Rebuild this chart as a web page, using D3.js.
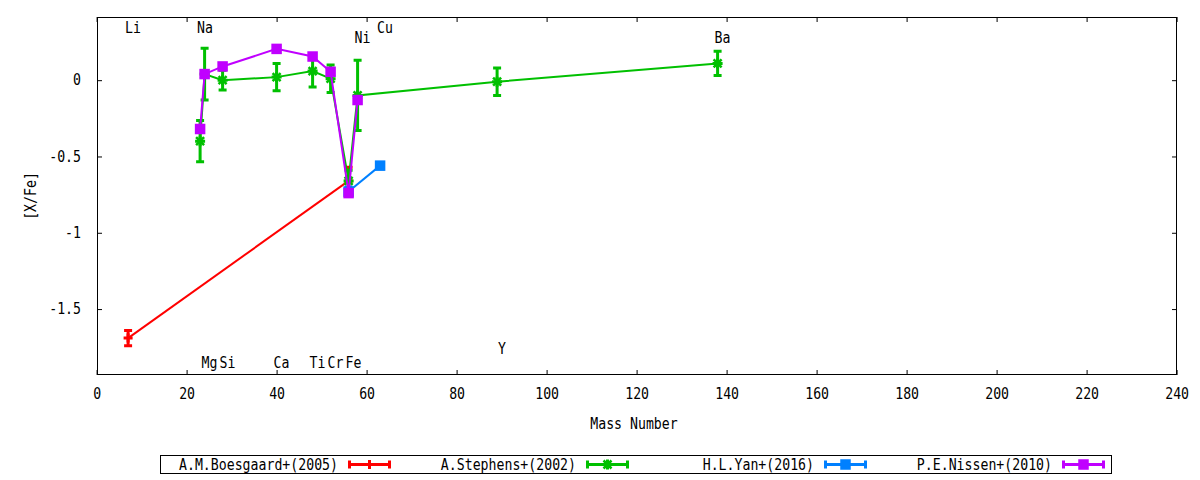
<!DOCTYPE html>
<html><head><meta charset="utf-8">
<script src="https://cdn.jsdelivr.net/npm/d3@7"></script>
<style>
body{margin:0;background:#fff}
text{font-family:"DejaVu Sans Mono",monospace;font-size:15px;fill:#000}
</style>
</head><body>
<svg id="c" width="1200" height="480"></svg>
<script>
// ---- data ----
const xTicks = [0,20,40,60,80,100,120,140,160,180,200,220,240];
const yTicks = [-1.5,-1,-0.5,0];
const yTickLabels = ["-1.5","-1","-0.5","0"];

const elements      = ["Li","Na","Mg","Si","Ca","Ti","Cr","Fe","Ni","Cu","Y","Ba"];
const elementMass   = [7,23,24,28,40,48,52,56,58,63,89,138];
const elementLabelY = [0.346,0.346,-1.855,-1.855,-1.855,-1.855,-1.855,-1.855,0.28,0.346,-1.76,0.28];

const seriesNames  = ["A.M.Boesgaard+(2005)","A.Stephens+(2002)","H.L.Yan+(2016)","P.E.Nissen+(2010)"];
const seriesColors = ["#ff0000","#00c000","#0080ff","#c000ff"];
const seriesMarks  = ["plus","star","square","square"];

const boesgaardX   = [7,56];
const boesgaardY   = [-1.69,-0.66];
const boesgaardErr = [0.05,0.09];

const stephensX   = [23,24,28,40,48,52,56,58,89,138];
const stephensY   = [-0.40,0.04,0.00,0.02,0.06,0.01,-0.66,-0.10,-0.01,0.11];
const stephensErr = [0.135,0.17,0.065,0.09,0.105,0.09,0.07,0.23,0.09,0.08];

const yanX   = [56,63];
const yanY   = [-0.73,-0.56];
const yanErr = [0.03,0.02];

const nissenX   = [23,24,28,40,48,52,56,58];
const nissenY   = [-0.32,0.04,0.09,0.205,0.155,0.055,-0.74,-0.13];
const nissenErr = [0.02,0.02,0.02,0.02,0.02,0.02,0.02,0.02];

const xDomain = [0,240];
const yDomain = [-1.932,0.414];

// ---- layout ----
const L=97, R=1177, T=17, B=375;
const CW = 7.95; // char advance
const svg = d3.select("#c");
const x = d3.scaleLinear().domain(xDomain).range([L-0.4,R-0.4]);
const y = d3.scaleLinear().domain(yDomain).range([B,T]);

function fit(sel){
  sel.each(function(){
    const t=d3.select(this); const n=t.text().length;
    if(n>0) t.attr("textLength", n*CW).attr("lengthAdjust","spacingAndGlyphs");
  });
}

// axes
const gx = svg.append("g").attr("transform",`translate(0,${B})`)
  .call(d3.axisBottom(x).tickValues(xTicks).tickSizeInner(-5).tickSizeOuter(0).tickPadding(13).tickFormat(d3.format("d")));
const gxt = svg.append("g").attr("transform",`translate(0,${T})`)
  .call(d3.axisTop(x).tickValues(xTicks).tickSizeInner(-5).tickSizeOuter(0).tickFormat(""));
const gy = svg.append("g").attr("transform",`translate(${L},0)`)
  .call(d3.axisLeft(y).tickValues(yTicks).tickSizeInner(-5).tickSizeOuter(0).tickPadding(16)
    .tickFormat((d,i)=>yTickLabels[i]));
const gyr = svg.append("g").attr("transform",`translate(${R},0)`)
  .call(d3.axisRight(y).tickValues(yTicks).tickSizeInner(-5).tickSizeOuter(0).tickFormat(""));
[gx,gxt,gy,gyr].forEach(g=>{
  g.select(".domain").remove();
  g.selectAll("line").attr("stroke","#000").attr("stroke-width",1);
  g.selectAll("text").attr("font-family",null).attr("font-size",null).attr("fill","#000").call(fit);
  g.attr("font-family",null).attr("font-size",null);
});

svg.append("rect").attr("x",L+0.5).attr("y",T+0.5).attr("width",R-L-1).attr("height",B-T-1)
  .attr("fill","none").attr("stroke","#000").attr("stroke-width",1);

// axis titles
svg.append("text").attr("x",634).attr("y",424).attr("dy","0.35em").attr("text-anchor","middle")
  .text("Mass Number").call(fit);
svg.append("text").attr("transform","translate(31,196) rotate(-90)").attr("dy","0.35em")
  .attr("text-anchor","middle").text("[X/Fe]").call(fit);

// element labels
svg.append("g").selectAll("text").data(elements).join("text")
  .attr("x",(d,i)=>x(elementMass[i])+4.8)
  .attr("y",(d,i)=>y(elementLabelY[i]))
  .attr("dy","0.35em").attr("text-anchor","middle").text(d=>d).call(fit);

// markers
function drawMark(g, kind, cx, cy, color){
  if(kind==="square"){
    g.append("rect").attr("x",cx-5.25).attr("y",cy-5.25).attr("width",10.5).attr("height",10.5).attr("fill",color);
  } else if(kind==="plus"){
    g.append("path").attr("d",`M${cx-4.5},${cy}H${cx+4.5}M${cx},${cy-4.5}V${cy+4.5}`)
      .attr("stroke",color).attr("stroke-width",3).attr("fill","none");
  } else {
    g.append("path").attr("d",`M${cx-5},${cy}H${cx+5}M${cx},${cy-5}V${cy+5}`)
      .attr("stroke",color).attr("stroke-width",3).attr("fill","none");
    g.append("path").attr("d",`M${cx-4},${cy-4}L${cx+4},${cy+4}M${cx-4},${cy+4}L${cx+4},${cy-4}`)
      .attr("stroke",color).attr("stroke-width",2.5).attr("fill","none");
  }
}

const seriesData = [
  [boesgaardX,boesgaardY,boesgaardErr],
  [stephensX,stephensY,stephensErr],
  [yanX,yanY,yanErr],
  [nissenX,nissenY,nissenErr]
];
const line = d3.line().x(d=>x(d[0])).y(d=>y(d[1]));

seriesData.forEach(([xs,ys,es],si)=>{
  const col = seriesColors[si];
  const g = svg.append("g");
  const pts = xs.map((v,i)=>[v,ys[i],es[i]]);
  g.append("path").attr("d",line(pts)).attr("fill","none").attr("stroke",col).attr("stroke-width",2);
  pts.forEach(p=>{
    const cx=x(p[0]), y1=y(p[1]+p[2]), y2=y(p[1]-p[2]);
    g.append("path").attr("d",`M${cx},${y1}V${y2}M${cx-4},${y1}H${cx+4}M${cx-4},${y2}H${cx+4}`)
      .attr("stroke",col).attr("stroke-width",3).attr("fill","none");
  });
  pts.forEach(p=>drawMark(g, seriesMarks[si], x(p[0]), y(p[1]), col));
});

// legend
const LX0=160, LX1=1112, LY0=455, LY1=474, COLW=238;
svg.append("rect").attr("x",LX0+0.5).attr("y",LY0+0.5).attr("width",LX1-LX0-1).attr("height",LY1-LY0-1)
  .attr("fill","none").attr("stroke","#000").attr("stroke-width",1);
const ly=(LY0+LY1)/2;
seriesNames.forEach((name,i)=>{
  const c0 = LX0 + COLW*i;
  const col = seriesColors[i];
  svg.append("text").attr("x",c0+178).attr("y",ly).attr("dy","0.35em").attr("text-anchor","end").text(name).call(fit);
  const s0=c0+188, s1=c0+231, g=svg.append("g");
  g.append("path").attr("d",`M${s0},${ly}H${s1}M${s0+1.5},${ly-4}V${ly+4}M${s1-1.5},${ly-4}V${ly+4}`)
    .attr("stroke",col).attr("stroke-width",3).attr("fill","none");
  drawMark(g, seriesMarks[i], (s0+s1)/2, ly, col);
});
</script>
</body></html>
